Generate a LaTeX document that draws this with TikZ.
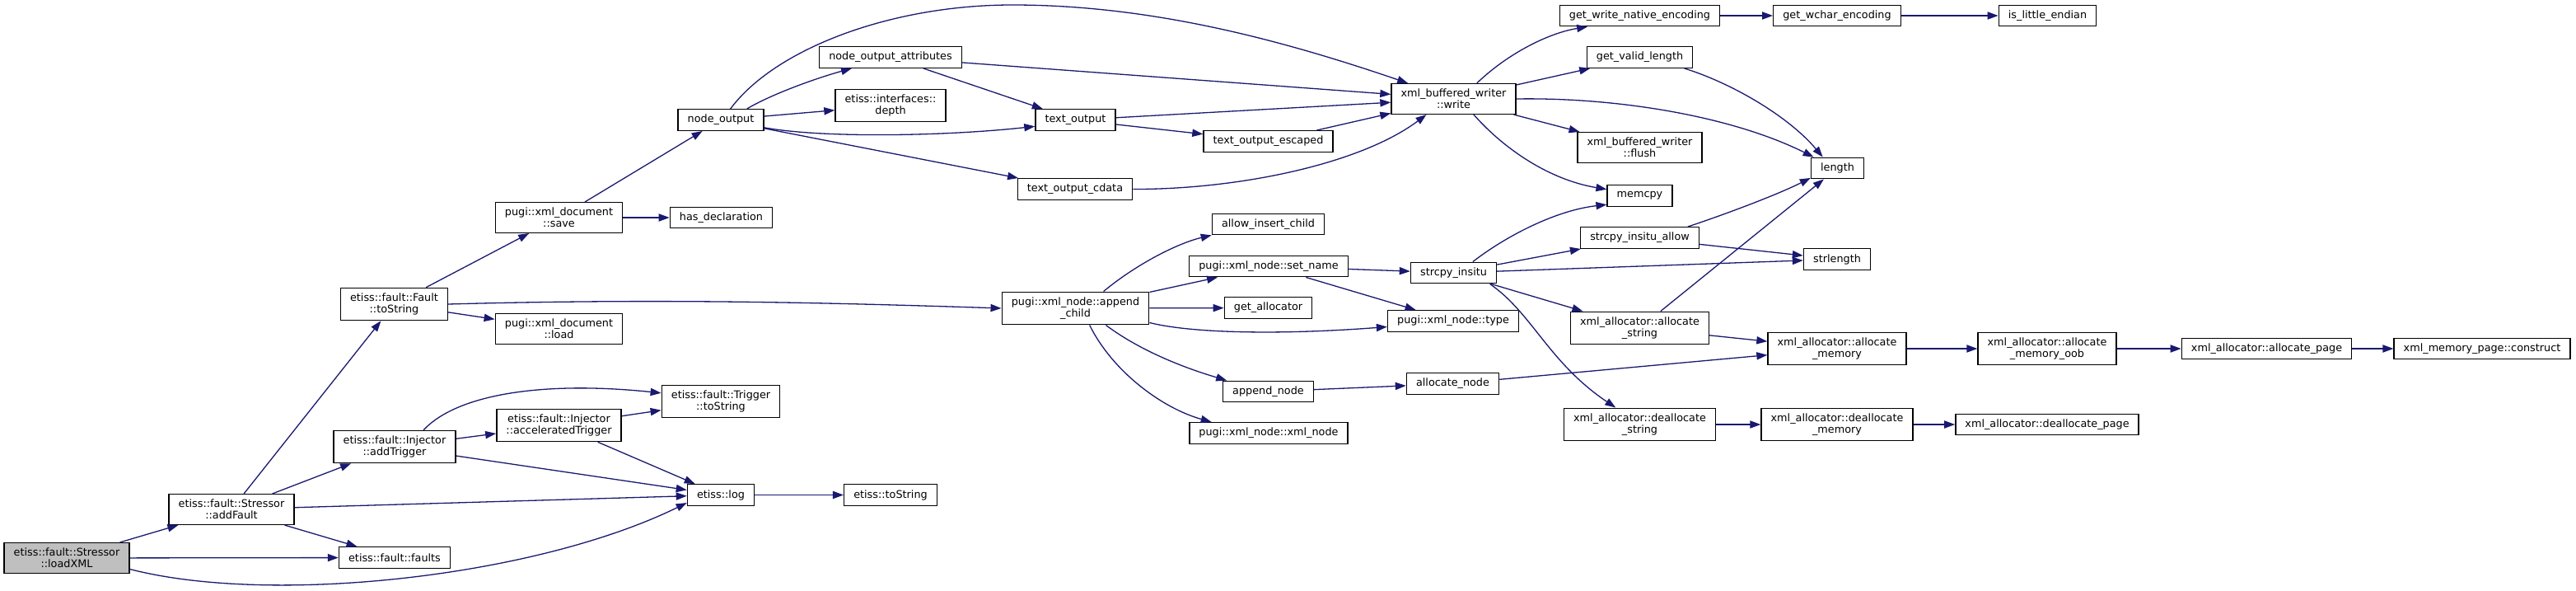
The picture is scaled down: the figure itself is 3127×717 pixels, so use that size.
\documentclass[tikz,border=0pt]{standalone}
\usepackage{fontspec}
\setmainfont{DejaVu Sans}
\usepackage{tikz}
\usetikzlibrary{arrows.meta}
\definecolor{edgeblue}{HTML}{191970}
\definecolor{rootgray}{HTML}{BFBFBF}

\begin{document}
\begin{tikzpicture}[x=0.5pt,y=-0.5pt,
  fn/.style={draw=black,fill=white,line width=0.7pt,inner xsep=5.8pt,inner ysep=3.2pt,
    minimum height=12.75pt,align=center,font=\fontsize{6.4}{7}\selectfont},
  call/.style={edgeblue,line width=0.65pt,-{Triangle[length=6.5pt,width=4.6pt]}}]
  \useasboundingbox (0,0) rectangle (3127,717);
  % etiss side
  \node[fn,fill=rootgray] (loadxml) at (81,677) {etiss::fault::Stressor\\::loadXML};
  \node[fn] (addfault) at (281,618) {etiss::fault::Stressor\\::addFault};
  \node[fn] (faults) at (479,676.5) {etiss::fault::faults};
  \node[fn] (addtrigger) at (479,542) {etiss::fault::Injector\\::addTrigger};
  \node[fn] (acctrigger) at (678.5,516) {etiss::fault::Injector\\::acceleratedTrigger};
  \node[fn] (faulttostr) at (478.5,369) {etiss::fault::Fault\\::toString};
  \node[fn] (trigtostr) at (875,487) {etiss::fault::Trigger\\::toString};
  \node[fn] (log) at (875,600.5) {etiss::log};
  \node[fn] (etisstostr) at (1081,600.5) {etiss::toString};
  % pugi document
  \node[fn] (docload) at (678.5,399) {pugi::xml\_document\\::load};
  \node[fn] (docsave) at (678.5,264) {pugi::xml\_document\\::save};
  \node[fn] (hasdecl) at (875.5,264) {has\_declaration};
  \node[fn] (nodeout) at (875,145.5) {node\_output};
  \node[fn] (nodeattr) at (1081,69.5) {node\_output\_attributes};
  \node[fn] (depth) at (1081,128) {etiss::interfaces::\\depth};
  \node[fn] (textout) at (1305.5,145.5) {text\_output};
  \node[fn] (textesc) at (1539.5,171.5) {text\_output\_escaped};
  \node[fn] (textcdata) at (1305,229.5) {text\_output\_cdata};
  \node[fn] (write) at (1764.5,120) {xml\_buffered\_writer\\::write};
  \node[fn] (nativeenc) at (1990.5,19) {get\_write\_native\_encoding};
  \node[fn] (wcharenc) at (2230,19) {get\_wchar\_encoding};
  \node[fn] (littleend) at (2485.5,19) {is\_little\_endian};
  \node[fn] (validlen) at (1990.5,69.5) {get\_valid\_length};
  \node[fn] (flush) at (1990.5,179) {xml\_buffered\_writer\\::flush};
  \node[fn] (memcpy) at (1990.5,237.5) {memcpy};
  \node[fn] (length) at (2230.5,204) {length};
  % pugi node
  \node[fn] (appendchild) at (1305.5,374) {pugi::xml\_node::append\\\_child};
  \node[fn] (allowinsert) at (1539.5,272) {allow\_insert\_child};
  \node[fn] (setname) at (1540,323) {pugi::xml\_node::set\_name};
  \node[fn] (getalloc) at (1539.5,373.5) {get\_allocator};
  \node[fn] (appendnode) at (1539.5,475) {append\_node};
  \node[fn] (xmlnode) at (1540,525.5) {pugi::xml\_node::xml\_node};
  \node[fn] (strcpy) at (1764.5,331) {strcpy\_insitu};
  \node[fn] (nodetype) at (1764,389.5) {pugi::xml\_node::type};
  \node[fn] (allocnode) at (1763.5,465.5) {allocate\_node};
  \node[fn] (strcpyallow) at (1990.5,288.5) {strcpy\_insitu\_allow};
  \node[fn] (strlength) at (2230,314.5) {strlength};
  % allocator
  \node[fn] (allocstr) at (1990.5,398) {xml\_allocator::allocate\\\_string};
  \node[fn] (deallocstr) at (1990.5,515) {xml\_allocator::deallocate\\\_string};
  \node[fn] (allocmem) at (2230,423) {xml\_allocator::allocate\\\_memory};
  \node[fn] (allocoob) at (2485,423) {xml\_allocator::allocate\\\_memory\_oob};
  \node[fn] (allocpage) at (2751.5,423) {xml\_allocator::allocate\_page};
  \node[fn] (construct) at (3013,423) {xml\_memory\_page::construct};
  \node[fn] (deallocmem) at (2230,515) {xml\_allocator::deallocate\\\_memory};
  \node[fn] (deallocpage) at (2485,515) {xml\_allocator::deallocate\_page};

  % calls
  \draw[call] (loadxml) -- (addfault);
  \draw[call] (loadxml) -- (faults);
  \draw[call] (loadxml.-10) .. controls (330,735) and (650,700) .. (log.193);
  \draw[call] (addfault) -- (faulttostr);
  \draw[call] (addfault) -- (addtrigger);
  \draw[call] (addfault) -- (log);
  \draw[call] (addfault) -- (faults);
  \draw[call] (addtrigger.30) .. controls (555,478) and (660,462) .. (trigtostr.172);
  \draw[call] (addtrigger) -- (acctrigger);
  \draw[call] (addtrigger) -- (log);
  \draw[call] (acctrigger) -- (trigtostr);
  \draw[call] (acctrigger) -- (log);
  \draw[call] (log) -- (etisstostr);
  \draw[call] (faulttostr) -- (docsave);
  \draw[call] (faulttostr) -- (docload);
  \draw[call] (faulttostr.east) .. controls (800,362) and (1000,367) .. (appendchild.west);
  \draw[call] (docsave) -- (nodeout);
  \draw[call] (docsave) -- (hasdecl);
  \draw[call] (nodeout.49) .. controls (940,60) and (1080,6) .. (1229,6)
    .. controls (1400,6) and (1560,50) .. (write.161);
  \draw[call] (nodeout.23) .. controls (935,115) and (990,95) .. (nodeattr.196);
  \draw[call] (nodeout) -- (depth);
  \draw[call] (nodeout.-10) .. controls (1000,168) and (1150,165) .. (textout.189);
  \draw[call] (nodeout) -- (textcdata);
  \draw[call] (nodeattr) -- (write);
  \draw[call] (nodeattr) -- (textout);
  \draw[call] (textout) -- (write);
  \draw[call] (textout) -- (textesc);
  \draw[call] (textesc) -- (write);
  \draw[call] (textcdata.east) .. controls (1500,230) and (1650,200) .. (write.210);
  \draw[call] (write.34) .. controls (1830,65) and (1880,40) .. (nativeenc.192);
  \draw[call] (write) -- (validlen);
  \draw[call] (write.east) .. controls (1960,118) and (2100,140) .. (length.155);
  \draw[call] (write) -- (flush);
  \draw[call] (write.-38) .. controls (1825,180) and (1880,218) .. (memcpy.169);
  \draw[call] (nativeenc) -- (wcharenc);
  \draw[call] (wcharenc) -- (littleend);
  \draw[call] (validlen.-14) .. controls (2100,100) and (2170,140) .. (length.143);
  \draw[call] (appendchild.31) .. controls (1380,320) and (1430,295) .. (allowinsert.191);
  \draw[call] (appendchild) -- (setname);
  \draw[call] (appendchild) -- (getalloc);
  \draw[call] (appendchild.-11) .. controls (1450,405) and (1560,406) .. (nodetype.185);
  \draw[call] (appendchild.-29) .. controls (1390,430) and (1450,450) .. (appendnode.165);
  \draw[call] (appendchild.-50) .. controls (1350,450) and (1410,495) .. (xmlnode.169);
  \draw[call] (setname) -- (strcpy);
  \draw[call] (setname) -- (nodetype);
  \draw[call] (strcpy.30) .. controls (1830,285) and (1890,255) .. (memcpy.195);
  \draw[call] (strcpy) -- (strcpyallow);
  \draw[call] (strcpy) -- (strlength);
  \draw[call] (strcpy) -- (allocstr);
  \draw[call] (strcpy.-17) .. controls (1860,380) and (1880,440) .. (deallocstr.145);
  \draw[call] (strcpyallow.13) .. controls (2100,258) and (2160,235) .. (length.200);
  \draw[call] (strcpyallow) -- (strlength);
  \draw[call] (allocstr) -- (length);
  \draw[call] (allocstr) -- (allocmem);
  \draw[call] (appendnode) -- (allocnode);
  \draw[call] (allocnode) -- (allocmem);
  \draw[call] (allocmem) -- (allocoob);
  \draw[call] (allocoob) -- (allocpage);
  \draw[call] (allocpage) -- (construct);
  \draw[call] (deallocstr) -- (deallocmem);
  \draw[call] (deallocmem) -- (deallocpage);
\end{tikzpicture}
\end{document}
